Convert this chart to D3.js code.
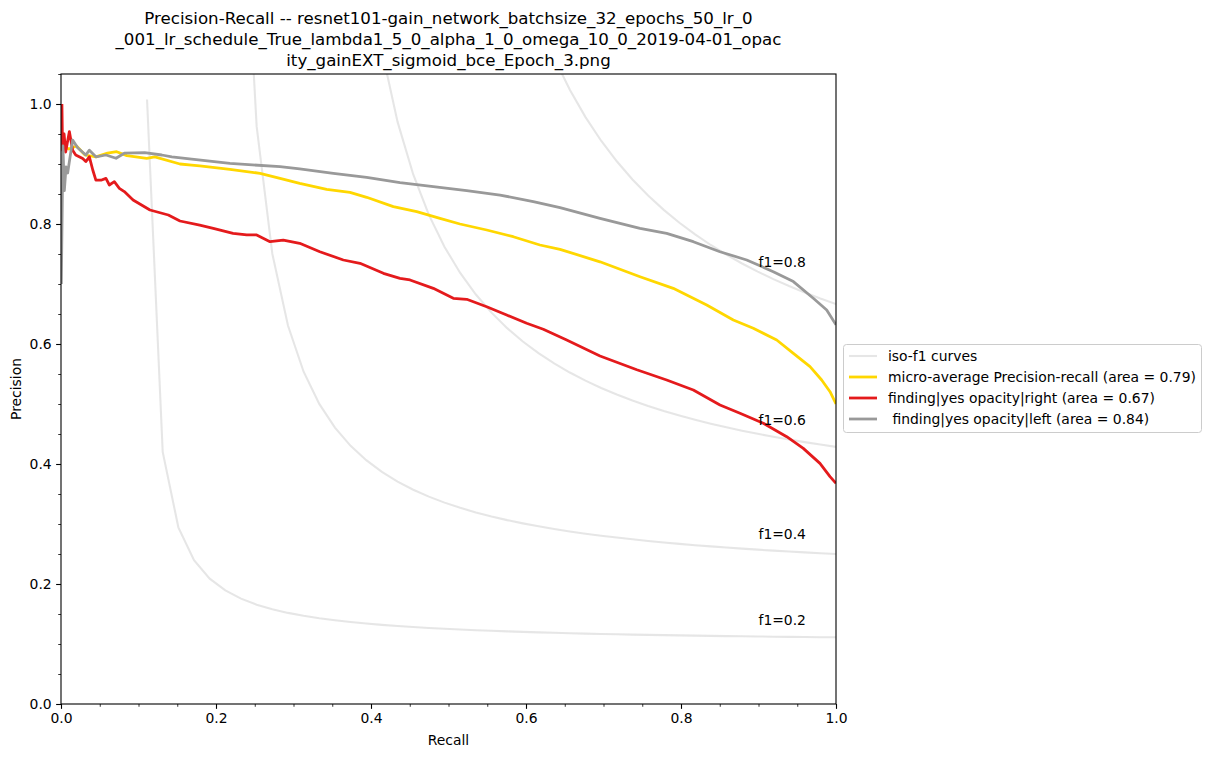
<!DOCTYPE html>
<html><head><meta charset="utf-8">
<script src="https://cdn.jsdelivr.net/npm/d3@7/dist/d3.min.js"></script>
<style>body{margin:0;background:#fff}svg{display:block}text{font-family:"DejaVu Sans",sans-serif;fill:#000}</style>
</head><body>
<svg id="c" width="1212" height="757"></svg>
<script>
// ---- data ----
const titleLines = [
  "Precision-Recall -- resnet101-gain_network_batchsize_32_epochs_50_lr_0",
  "_001_lr_schedule_True_lambda1_5_0_alpha_1_0_omega_10_0_2019-04-01_opac",
  "ity_gainEXT_sigmoid_bce_Epoch_3.png"
];
const xTicks = [0, 0.2, 0.4, 0.6, 0.8, 1.0];
const yTicks = [0, 0.2, 0.4, 0.6, 0.8, 1.0];
const minorTicks = [0.05,0.1,0.15,0.25,0.3,0.35,0.45,0.5,0.55,0.65,0.7,0.75,0.85,0.9,0.95];
const minorTicksY = [0.05,0.1,0.15,0.25,0.3,0.35,0.45,0.5,0.55,0.65,0.7,0.75,0.85,0.9,0.95,1.05];

// iso-f1 grid (recall) and precision values for each f1 level
const isoX = [0.01,0.030204,0.050408,0.070612,0.090816,0.111020,0.131224,0.151429,0.171633,0.191837,
  0.212041,0.232245,0.252449,0.272653,0.292857,0.313061,0.333265,0.353469,0.373673,0.393878,
  0.414082,0.434286,0.454490,0.474694,0.494898,0.515102,0.535306,0.555510,0.575714,0.595918,
  0.616122,0.636327,0.656531,0.676735,0.696939,0.717143,0.737347,0.757551,0.777755,0.797959,
  0.818163,0.838367,0.858571,0.878776,0.898980,0.919184,0.939388,0.959592,0.979796,1.0];
const isoLevels = [0.2, 0.4, 0.6, 0.8];
const isoStart = [5, 10, 15, 20];
const isoY02 = [1.0074,0.42027,0.29444,0.23960,0.20889,0.18925,0.17562,0.16559,0.15792,0.15185,0.14693,0.14287,0.13945,0.13654,0.13403,0.13184,0.12991,0.12821,0.12669,0.12532,0.12409,0.12297,0.12195,0.12102,0.12017,0.11937,0.11865,0.11797,0.11734,0.11675,0.11620,0.11569,0.11521,0.11475,0.11433,0.11392,0.11354,0.11318,0.11284,0.11252,0.11221,0.11191,0.11163,0.11137,0.11111];
const isoY04 = [3.522,1.4405,0.96265,0.75056,0.63077,0.55379,0.50016,0.46064,0.43032,0.40632,0.38684,0.37073,0.35718,0.34562,0.33564,0.32694,0.31930,0.31251,0.30646,0.30103,0.29612,0.29167,0.28762,0.28390,0.28049,0.27735,0.27444,0.27174,0.26923,0.26689,0.26471,0.26266,0.26074,0.25893,0.25723,0.25562,0.25410,0.25266,0.25130,0.25];
const isoY06 = [7.19,3.0055,1.98321,1.52162,1.25869,1.08891,0.97021,0.88256,0.81519,0.76178,0.71841,0.68248,0.65224,0.62643,0.60414,0.58470,0.56760,0.55243,0.53889,0.52675,0.51575,0.50579,0.49670,0.48838,0.48074,0.47369,0.46717,0.46113,0.45550,0.45026,0.44535,0.44076,0.43645,0.43239,0.42857];
const isoY08 = [11.76,5.0666,3.3363,2.5421,2.08602,1.79008,1.58250,1.42887,1.31057,1.21667,1.14031,1.07702,1.02371,0.97817,0.93883,0.90450,0.87429,0.84749,0.82356,0.80205,0.78262,0.76500,0.74891,0.73419,0.72065,0.70818,0.69663,0.68592,0.67596,0.66667];
const isoYs = [isoY02, isoY04, isoY06, isoY08];
const isoLabelY = [0.1322, 0.2756, 0.4654, 0.7282];

const microRecall = [0.0015,0.01,0.02,0.031,0.045,0.06,0.0718,0.085,0.1106,0.121,0.1535,0.1686,0.179,0.218,0.2568,0.2826,0.308,0.3428,0.3729,0.3944,0.4288,0.459,0.489,0.5148,0.5493,0.5836,0.618,0.6439,0.6955,0.7471,0.79,0.8332,0.8675,0.8933,0.9235,0.945,0.9665,0.9815,0.9923,1.0];
const microPrec   = [0.93,0.925,0.93,0.915,0.912,0.918,0.9205,0.914,0.9095,0.912,0.90,0.898,0.8967,0.891,0.8845,0.876,0.8678,0.8578,0.8528,0.8445,0.8289,0.8205,0.8095,0.80,0.79,0.7788,0.765,0.7578,0.737,0.7122,0.6928,0.665,0.64,0.6262,0.6067,0.5845,0.5622,0.54,0.5205,0.50];

const rightRecall = [0.0012,0.002,0.004,0.006,0.0108,0.015,0.019,0.028,0.032,0.0366,0.041,0.045,0.0516,0.058,0.0624,0.0688,0.0753,0.0817,0.093,0.1148,0.1385,0.1535,0.179,0.1965,0.222,0.2396,0.2525,0.2697,0.2868,0.308,0.334,0.3643,0.3858,0.416,0.4374,0.4503,0.4804,0.5062,0.5235,0.5493,0.5751,0.6009,0.6223,0.6525,0.6955,0.743,0.7815,0.8159,0.8503,0.8761,0.9062,0.9364,0.9578,0.9793,0.9923,1.0];
const rightPrec   = [1.0,0.923,0.95,0.92,0.954,0.923,0.915,0.909,0.904,0.912,0.89,0.873,0.873,0.876,0.865,0.8705,0.8595,0.854,0.84,0.8233,0.815,0.805,0.798,0.7928,0.7845,0.7817,0.7817,0.7705,0.7733,0.7678,0.7538,0.74,0.7345,0.7178,0.7095,0.7067,0.6928,0.6762,0.6745,0.6622,0.6483,0.6345,0.6245,0.6067,0.58,0.557,0.54,0.5233,0.4983,0.4845,0.4678,0.4455,0.426,0.401,0.3789,0.368];

const leftRecall = [0.0004,0.0025,0.0043,0.0065,0.0086,0.015,0.0215,0.032,0.0366,0.045,0.058,0.071,0.0817,0.108,0.13,0.143,0.1686,0.218,0.2826,0.308,0.3514,0.3944,0.4374,0.4804,0.5235,0.5665,0.6094,0.6439,0.6955,0.7471,0.7815,0.8159,0.8503,0.8848,0.9191,0.945,0.9707,0.988,1.0];
const leftPrec   = [0.70,0.93,0.8555,0.895,0.885,0.94,0.927,0.915,0.923,0.912,0.915,0.9095,0.918,0.919,0.915,0.912,0.908,0.901,0.8955,0.8917,0.8845,0.8778,0.8688,0.8622,0.8555,0.8483,0.8372,0.8272,0.8095,0.7928,0.7845,0.7705,0.7538,0.74,0.7205,0.704,0.6762,0.6567,0.632];

const seriesNames = ["micro-average Precision-recall (area = 0.79)", "finding|yes opacity|right (area = 0.67)", " finding|yes opacity|left (area = 0.84)"];
const seriesColors = ["#ffd700", "#e41a1c", "#999999"];

// ---- drawing ----
const svg = d3.select("#c");
const L = 61, R = 836, T = 74, B = 704;
const x = d3.scaleLinear().domain([0, 1]).range([L, R]);
const y = d3.scaleLinear().domain([0, 1.05]).range([B, T]);

svg.append("defs").append("clipPath").attr("id","clip")
  .append("rect").attr("x",L).attr("y",T).attr("width",R-L).attr("height",B-T);

const plot = svg.append("g").attr("clip-path","url(#clip)");
const line = d3.line().x(d => x(d[0])).y(d => y(d[1]));

// iso-f1 curves
isoLevels.forEach((f, i) => {
  const pts = isoYs[i].map((v, j) => [isoX[isoStart[i] + j], v]);
  plot.append("path").attr("d", line(pts)).attr("fill","none")
    .attr("stroke","#808080").attr("stroke-opacity",0.2).attr("stroke-width",2.08);
});

const series = [[microRecall, microPrec], [rightRecall, rightPrec], [leftRecall, leftPrec]];
series.forEach((s, i) => {
  const pts = s[0].map((r, j) => [r, s[1][j]]);
  plot.append("path").attr("d", line(pts)).attr("fill","none")
    .attr("stroke", seriesColors[i]).attr("stroke-width", 2.78).attr("stroke-linejoin","round");
});

// iso labels
isoLevels.forEach((f, i) => {
  svg.append("text").attr("x", x(0.9)).attr("y", y(isoLabelY[i]))
    .attr("font-size","13.9px").text("f1=" + f.toFixed(1));
});

// axes
const xAxis = d3.axisBottom(x).tickValues(xTicks).tickFormat(d3.format(".1f")).tickSize(4.86).tickPadding(4.5);
const yAxis = d3.axisLeft(y).tickValues(yTicks).tickFormat(d3.format(".1f")).tickSize(4.86).tickPadding(4.5);
const gx = svg.append("g").attr("transform",`translate(0,${B})`).call(xAxis);
const gy = svg.append("g").attr("transform",`translate(${L},0)`).call(yAxis);
[gx, gy].forEach(g => {
  g.select(".domain").remove();
  g.selectAll("text").attr("font-size","13.9px").attr("font-family","DejaVu Sans").attr("fill","#000");
  g.selectAll("line").attr("stroke","#000").attr("stroke-width",1.1);
});
svg.append("g").attr("transform",`translate(0,${B})`)
  .call(d3.axisBottom(x).tickValues(minorTicks).tickFormat("").tickSize(2.78))
  .call(g => { g.select(".domain").remove(); g.selectAll("line").attr("stroke","#000").attr("stroke-width",0.8); });
svg.append("g").attr("transform",`translate(${L},0)`)
  .call(d3.axisLeft(y).tickValues(minorTicksY.filter(v => v <= 1.05)).tickFormat("").tickSize(2.78))
  .call(g => { g.select(".domain").remove(); g.selectAll("line").attr("stroke","#000").attr("stroke-width",0.8); });

// frame
svg.append("rect").attr("x",L).attr("y",T).attr("width",R-L).attr("height",B-T)
  .attr("fill","none").attr("stroke","#000").attr("stroke-width",1.1);

// labels
svg.append("text").attr("x",(L+R)/2).attr("y",745).attr("text-anchor","middle")
  .attr("font-size","13.9px").text("Recall");
svg.append("text").attr("transform",`translate(21,${(T+B)/2}) rotate(-90)`).attr("text-anchor","middle")
  .attr("font-size","13.9px").text("Precision");

titleLines.forEach((t, i) => {
  svg.append("text").attr("x",(L+R)/2).attr("y",24 + i*21).attr("text-anchor","middle")
    .attr("font-size","16.67px").text(t);
});

// legend
const lg = svg.append("g");
lg.append("rect").attr("x",843.5).attr("y",344.5).attr("width",358).attr("height",88).attr("rx",3)
  .attr("fill","#fff").attr("fill-opacity",0.8).attr("stroke","#cccccc").attr("stroke-width",1);
const legItems = [{name:"iso-f1 curves", color:"#808080", op:0.2}]
  .concat(seriesNames.map((n, i) => ({name:n, color:seriesColors[i], op:1})));
legItems.forEach((d, i) => {
  const cy = 356 + i*21;
  lg.append("line").attr("x1",849).attr("x2",877).attr("y1",cy).attr("y2",cy)
    .attr("stroke",d.color).attr("stroke-opacity",d.op).attr("stroke-width", i===0 ? 2.08 : 2.78);
  lg.append("text").attr("x",888).attr("y",cy).attr("dy","0.35em").attr("font-size","13.9px")
    .attr("xml:space","preserve").style("white-space","pre").text(d.name);
});
</script>
</body></html>
